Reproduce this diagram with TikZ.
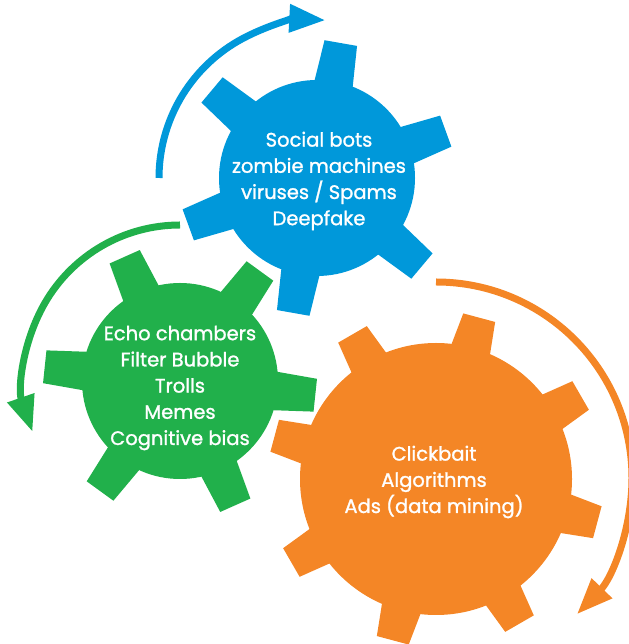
\documentclass[tikz,border=0pt]{standalone}
\usepackage{fontspec}
\setmainfont{Poppins}[FakeBold=1.3]
\usetikzlibrary{arrows.meta}
\definecolor{gblue}{RGB}{0,152,218}
\definecolor{ggreen}{RGB}{33,176,75}
\definecolor{gorange}{RGB}{244,134,38}
\newcommand{\drawgear}[9]{%
  \begin{scope}[shift={(#1,#2)}]
    \fill[#9] (0,0) circle[radius=#3pt];
    \foreach \k in {1,...,#5} {
      \pgfmathsetmacro\gearang{#6+(\k-1)*360/#5}
      \fill[#9,rotate=\gearang] (#3-12,-#7/2) -- (#4,-#8/2) -- (#4,#8/2) -- (#3-12,#7/2) -- cycle;
    }
  \end{scope}}
\tikzset{
  gtext/.style={text=white, align=center, font=\fontsize{19.5}{26.2}\selectfont},
  rotarrow/.style={line width=7pt, -{Triangle[length=36pt,width=27pt]}},
}
\begin{document}
\begin{tikzpicture}[x=1pt,y=1pt]
\useasboundingbox (0,0) rectangle (628,644);
% gears
\drawgear{317}{466}{98}{137}{6}{20}{40}{33}{gblue}
\drawgear{180}{263}{98}{136}{6}{-6}{40}{33}{ggreen}
\drawgear{436}{165}{136}{167}{8}{-15}{42}{33}{gorange}
% centres
\coordinate (bc) at (317,466);
\coordinate (gc) at (180,263);
\coordinate (oc) at (436,165);
% texts
\node[gtext] (bt) at (319,463) {Social bots\\zombie machines\\viruses / Spams\\Deepfake};
\node[gtext] (gt) at (180,256) {Echo chambers\\Filter Bubble\\Trolls\\Memes\\Cognitive bias};
\node[gtext] (ot) at (434,162) {Clickbait\\Algorithms\\Ads (data mining)};
% arrows
\draw[rotarrow, gblue] ([shift={(180:158pt)}]bc) arc[start angle=180, end angle=87, radius=158pt];
\draw[rotarrow, ggreen] ([shift={(90:156pt)}]gc) arc[start angle=90, end angle=199, radius=156pt];
\draw[rotarrow, gorange] ([shift={(90:197pt)}]oc) arc[start angle=90, end angle=-44, radius=196pt];
\end{tikzpicture}
\end{document}
